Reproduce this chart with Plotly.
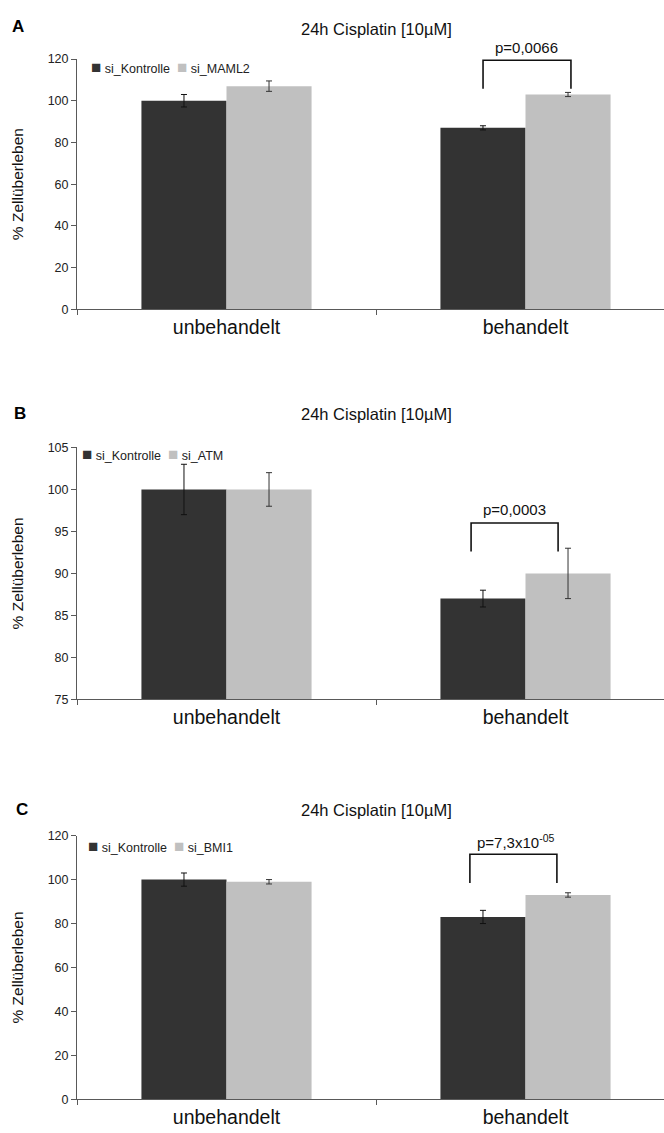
import plotly.graph_objects as go

# Survival after 24h cisplatin [10 µM], three knock-down experiments
categories = ["unbehandelt", "behandelt"]

ctrl_name = "si_Kontrolle"
ctrl_a = [100, 87]
ctrl_a_err = [3, 1]
maml2_a = [107, 103]
maml2_a_err = [2.5, 1]

ctrl_b = [100, 87]
ctrl_b_err = [3, 1]
atm_b = [100, 90]
atm_b_err = [2, 3]

ctrl_c = [100, 83]
ctrl_c_err = [3, 3]
bmi1_c = [99, 93]
bmi1_c_err = [1, 1]

p_labels = ["p=0,0066", "p=0,0003", "p=7,3x10<sup>-05</sup>"]
panel_letters = ["A", "B", "C"]
title_text = "24h Cisplatin [10µM]"
y_ticks_a = [0, 20, 40, 60, 80, 100, 120]
y_ticks_b = [75, 80, 85, 90, 95, 100, 105]
y_ticks_c = [0, 20, 40, 60, 80, 100, 120]

# brackets: (left x, right x, top y, leg bottom y) in axis coordinates
brackets = [
    (0.858, 1.152, 119.4, 105.7),
    (0.818, 1.109, 96.0, 92.6),
    (0.814, 1.105, 111.5, 98.4),
]

DARK = "#333333"
LIGHT = "#c0c0c0"
FONT = "Liberation Sans, Arial, sans-serif"
H = 1133.0
W = 664.0
NB = "\u00a0"

panels = [
    dict(ctrl=ctrl_a, ctrl_err=ctrl_a_err, other=maml2_a, other_err=maml2_a_err,
         other_name="si_MAML2", yrange=[0, 120], ticks=y_ticks_a,
         top=52.7, bottom=306, grid=dict(gridcolor="#b8b8b8", griddash="solid"),
         title_y=22, letter_xy=(18, 20), legend_xy=(89, 61),
         p_xy=(1.005, 41)),
    dict(ctrl=ctrl_b, ctrl_err=ctrl_b_err, other=atm_b, other_err=atm_b_err,
         other_name="si_ATM", yrange=[75, 105], ticks=y_ticks_b,
         top=446, bottom=701, grid=dict(gridcolor="#444444", griddash="3px,2px"),
         title_y=412, letter_xy=(20, 412), legend_xy=(80, 453),
         p_xy=(0.962, 509)),
    dict(ctrl=ctrl_c, ctrl_err=ctrl_c_err, other=bmi1_c, other_err=bmi1_c_err,
         other_name="si_BMI1", yrange=[0, 120], ticks=y_ticks_c,
         top=839, bottom=1106, grid=dict(gridcolor="#444444", griddash="3px,2px"),
         title_y=813, letter_xy=(22, 813), legend_xy=(86, 850),
         p_xy=(0.965, 845)),
]

fig = go.Figure()
layout = dict(
    width=664, height=1133,
    margin=dict(l=0, r=0, t=0, b=0),
    paper_bgcolor="white", plot_bgcolor="white",
    barmode="group", bargap=0.431, bargroupgap=0,
    font=dict(family=FONT, color="#222222"),
    showlegend=False,
    annotations=[], shapes=[],
)

x_domain = [77 / W, 1.0]
x_range = [-0.5, -0.5 + (W - 77) / 299.0]

for i, pnl in enumerate(panels):
    n = "" if i == 0 else str(i + 1)
    xa, ya = "x" + n, "y" + n

    fig.add_trace(go.Bar(
        x=categories, y=pnl["ctrl"], name=ctrl_name, marker=dict(color=DARK, line=dict(width=0)),
        error_y=dict(type="data", array=pnl["ctrl_err"], color="#111111", thickness=1, width=3),
        xaxis=xa, yaxis=ya,
    ))
    fig.add_trace(go.Bar(
        x=categories, y=pnl["other"], name=pnl["other_name"],
        marker=dict(color=LIGHT, line=dict(width=0)),
        error_y=dict(type="data", array=pnl["other_err"], color="#333333", thickness=1, width=3),
        xaxis=xa, yaxis=ya,
    ))

    dom = [1 - pnl["bottom"] / H, 1 - pnl["top"] / H]
    layout["xaxis" + n] = dict(
        domain=x_domain, range=x_range, anchor=ya, type="category",
        showline=True, linecolor="#595959", linewidth=1,
        ticks="outside", tickson="boundaries", ticklen=5, tickcolor="#595959",
        showgrid=False, tickfont=dict(size=19.5, color="#111111"),
        fixedrange=True,
    )
    # grid lines sit on their own axis so the top tick has no line
    grid_vals = pnl["ticks"][1:-1]
    layout["yaxis" + str(i + 4)] = dict(
        domain=dom, range=pnl["yrange"], anchor=xa, overlaying=ya,
        tickvals=grid_vals, showticklabels=False, ticks="",
        showgrid=True, gridwidth=1, showline=False, zeroline=False,
        layer="below traces", **pnl["grid"],
    )
    layout["yaxis" + n] = dict(
        domain=dom, range=pnl["yrange"], anchor=xa,
        tickvals=pnl["ticks"], showgrid=False, zeroline=False,
        showline=True, linecolor="#595959", linewidth=1,
        ticks="outside", ticklen=5, tickcolor="#595959",
        tickfont=dict(size=12.5, color="#222222"),
        title=dict(text="% Zellüberleben", font=dict(size=15.5, color="#111111"), standoff=20),
        fixedrange=True,
    )

    # compact legend: coloured squares followed by series names
    lgx, lgy = pnl["legend_xy"]
    legend_text = (
        "<span style='color:%s;font-size:17px'>■</span>%s%s%s%s"
        "<span style='color:%s;font-size:17px'>■</span>%s%s"
        % (DARK, NB, ctrl_name, NB, NB, LIGHT, NB, pnl["other_name"])
    )
    layout["annotations"].append(dict(
        text=legend_text, x=lgx / W, y=1 - lgy / H, xref="paper", yref="paper",
        showarrow=False, font=dict(size=12.5, color="#222222"), xanchor="left", yanchor="middle",
    ))

    # panel title and letter
    layout["annotations"].append(dict(
        text=title_text, x=376 / W, y=1 - pnl["title_y"] / H, xref="paper", yref="paper",
        showarrow=False, font=dict(size=16.5, color="#111111"), xanchor="center", yanchor="middle",
    ))
    lx, ly = pnl["letter_xy"]
    layout["annotations"].append(dict(
        text="<b>%s</b>" % panel_letters[i], x=lx / W, y=1 - ly / H, xref="paper", yref="paper",
        showarrow=False, font=dict(size=17, color="#000000"), xanchor="center", yanchor="middle",
    ))

    # significance bracket and p-value
    bl, br, bt, bb = brackets[i]
    layout["shapes"].append(dict(
        type="path", xref=xa, yref=ya,
        path="M %f,%f L %f,%f L %f,%f L %f,%f" % (bl, bb, bl, bt, br, bt, br, bb),
        line=dict(color="#111111", width=1.6),
    ))
    px, py = pnl["p_xy"]
    layout["annotations"].append(dict(
        text=p_labels[i], x=px, y=1 - py / H, xref=xa, yref="paper",
        showarrow=False, font=dict(size=15, color="#111111"), xanchor="center", yanchor="middle",
    ))

fig.update_layout(**layout)
fig.write_html("out.html")
